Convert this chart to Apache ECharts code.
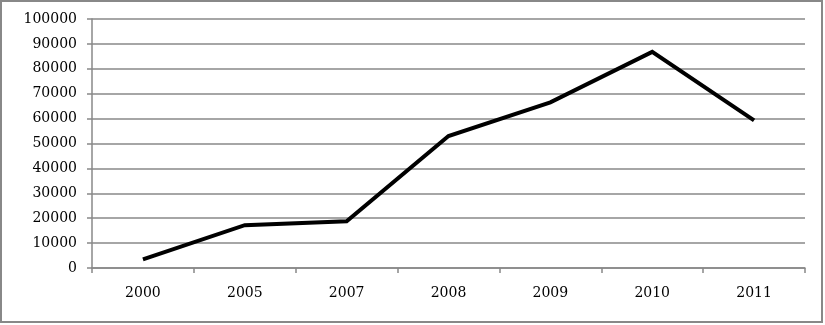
<!DOCTYPE html>
<html>
<head>
<meta charset="utf-8">
<script src="https://cdn.jsdelivr.net/npm/echarts@6/dist/echarts.min.js"></script>
<style>
  html, body { margin: 0; padding: 0; background: #fff; }
  #chart { width: 825px; height: 325px; }
</style>
</head>
<body>
<div id="chart"></div>
<script>
// data
var years = ['2000', '2005', '2007', '2008', '2009', '2010', '2011']
var values = [3500, 17200, 18800, 53000, 66500, 86800, 59300]

var chartInstance = echarts.init(document.getElementById('chart'))
var font = 'DejaVu Serif'

var option = {
  animation: false,
  backgroundColor: '#fff',
  graphic: [
    {
      type: 'rect',
      shape: { x: 1, y: 1, width: 821, height: 321 },
      style: { fill: 'none', stroke: '#888', lineWidth: 2 }
    }
  ],
  grid: {
    left: 92,
    right: 20,
    top: 19,
    bottom: 57
  },
  xAxis: {
    type: 'category',
    data: years,
    boundaryGap: true,
    axisLine: { lineStyle: { color: '#888', width: 1.5 } },
    axisTick: { show: true, inside: false, length: 5, lineStyle: { color: '#888', width: 1.5 } },
    axisLabel: { color: '#000', fontFamily: font, fontSize: 14, margin: 18 }
  },
  yAxis: {
    type: 'value',
    min: 0,
    max: 100000,
    interval: 10000,
    axisLine: { show: true, lineStyle: { color: '#888', width: 1.5 } },
    axisTick: { show: true, length: 5, lineStyle: { color: '#888', width: 1.5 } },
    axisLabel: {
      color: '#000',
      fontFamily: font,
      fontSize: 14,
      margin: 15,
      formatter: function (v) { return String(v) }
    },
    splitLine: { lineStyle: { color: '#888', width: 1.5 } }
  },
  series: [
    {
      type: 'line',
      data: values,
      symbol: 'none',
      lineStyle: { color: '#000', width: 4, join: 'miter' }
    }
  ]
}
chartInstance.setOption(option)
</script>
</body>
</html>
